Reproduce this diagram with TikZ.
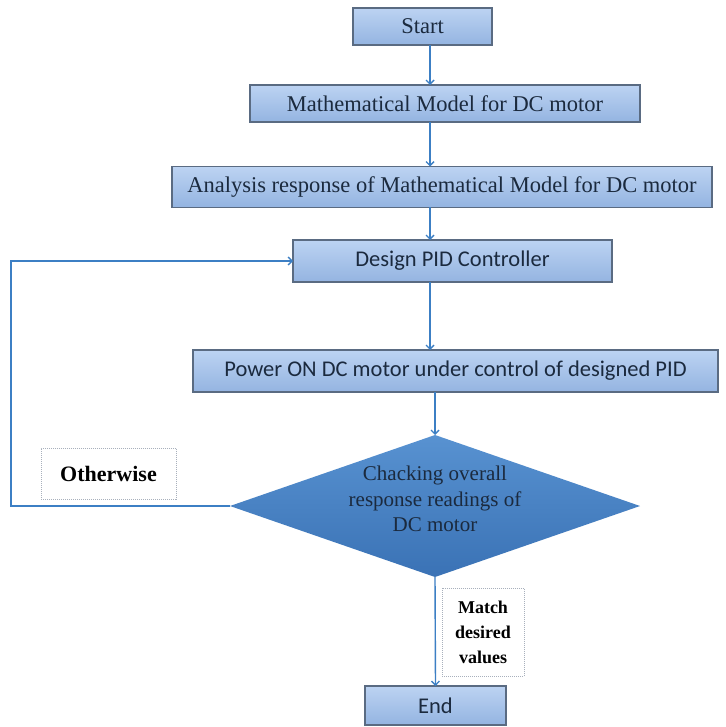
\documentclass[tikz,border=0pt]{standalone}
\usepackage{fontspec}
\setmainfont{Liberation Serif}
\newfontfamily\calib{Carlito}
\usetikzlibrary{shapes.geometric,arrows.meta}
\definecolor{boxtop}{HTML}{BCD3F2}
\definecolor{boxbot}{HTML}{94B4E1}
\definecolor{boxedge}{HTML}{5A6B82}
\definecolor{txt}{HTML}{1B2A3E}
\definecolor{arrowc}{HTML}{3C7FC4}
\definecolor{diatop}{HTML}{5892D1}
\definecolor{diabot}{HTML}{3A72B5}
\definecolor{dotc}{HTML}{A8B0BC}
\begin{document}
\begin{tikzpicture}[x=1pt,y=-1pt,
  pbox/.style={draw=boxedge, line width=1.4pt, top color=boxtop, bottom color=boxbot,
    text=txt, inner sep=0pt, outer sep=0pt},
  serifbig/.style={font=\fontsize{22.5}{26}\selectfont},
  sansbig/.style={font=\calib\fontsize{22.5}{26}\selectfont},
  dotbox/.style={draw=dotc, densely dotted, line width=1pt, fill=white, text=black,
    inner sep=0pt, outer sep=0pt, align=center},
  arr/.style={draw=arrowc, line width=1.4pt, -{Straight Barb[length=4pt,width=8pt]}}]
\useasboundingbox (0,0) rectangle (725,727);
\fill[white] (0,0) rectangle (725,727);

\coordinate (xa) at (430,0);
\coordinate (xb) at (435,0);
\coordinate (xl) at (11,0);

\node[pbox, serifbig, minimum width=139pt, minimum height=37pt] (start) at (422.5,26.5) {Start};
\node[pbox, serifbig, minimum width=390pt, minimum height=37pt] (math) at (445,103.5) {Mathematical Model for DC motor};
\node[pbox, serifbig, minimum width=540pt, minimum height=41pt] (ana) at (442,187) {Analysis response of Mathematical Model for DC motor};
\node[pbox, sansbig, minimum width=319pt, minimum height=42pt] (design) at (452.5,261) {Design PID Controller};
\node[pbox, sansbig, minimum width=525pt, minimum height=42pt] (power) at (455.5,371) {Power ON DC motor under control of designed PID};

\node[diamond, minimum width=410pt, minimum height=142pt, inner sep=0pt, outer sep=0pt,
  top color=diatop, bottom color=diabot, draw=none] (dia) at (435,506) {};
\node[text=txt, align=center, font=\fontsize{21}{25.5}\selectfont, inner sep=0pt] (diatext)
  at ([yshift=7pt]dia.center) {Chacking overall\\response readings of\\DC motor};

\node[dotbox, minimum width=135pt, minimum height=51pt, font=\bfseries\fontsize{22}{26}\selectfont] (oth) at (108.5,473.5) {Otherwise};
\node[dotbox, minimum width=82pt, minimum height=88pt, font=\bfseries\fontsize{18}{25}\selectfont] (match) at (483,632) {Match\\desired\\values};

\node[pbox, sansbig, minimum width=141pt, minimum height=39pt] (end) at (435.5,705.5) {End};

\draw[arr] (start.south -| xa) -- (math.north -| xa);
\draw[arr] (math.south -| xa) -- (ana.north -| xa);
\draw[arr] (ana.south -| xa) -- (design.north -| xa);
\draw[arr] (design.south -| xa) -- (power.north -| xa);
\draw[arr] (power.south -| xb) -- (dia.north);
\draw[arr] (dia.south) -- (end.north);
\draw[arr] (dia.west) -- (dia.west -| xl) |- (design.west);
\end{tikzpicture}
\end{document}
